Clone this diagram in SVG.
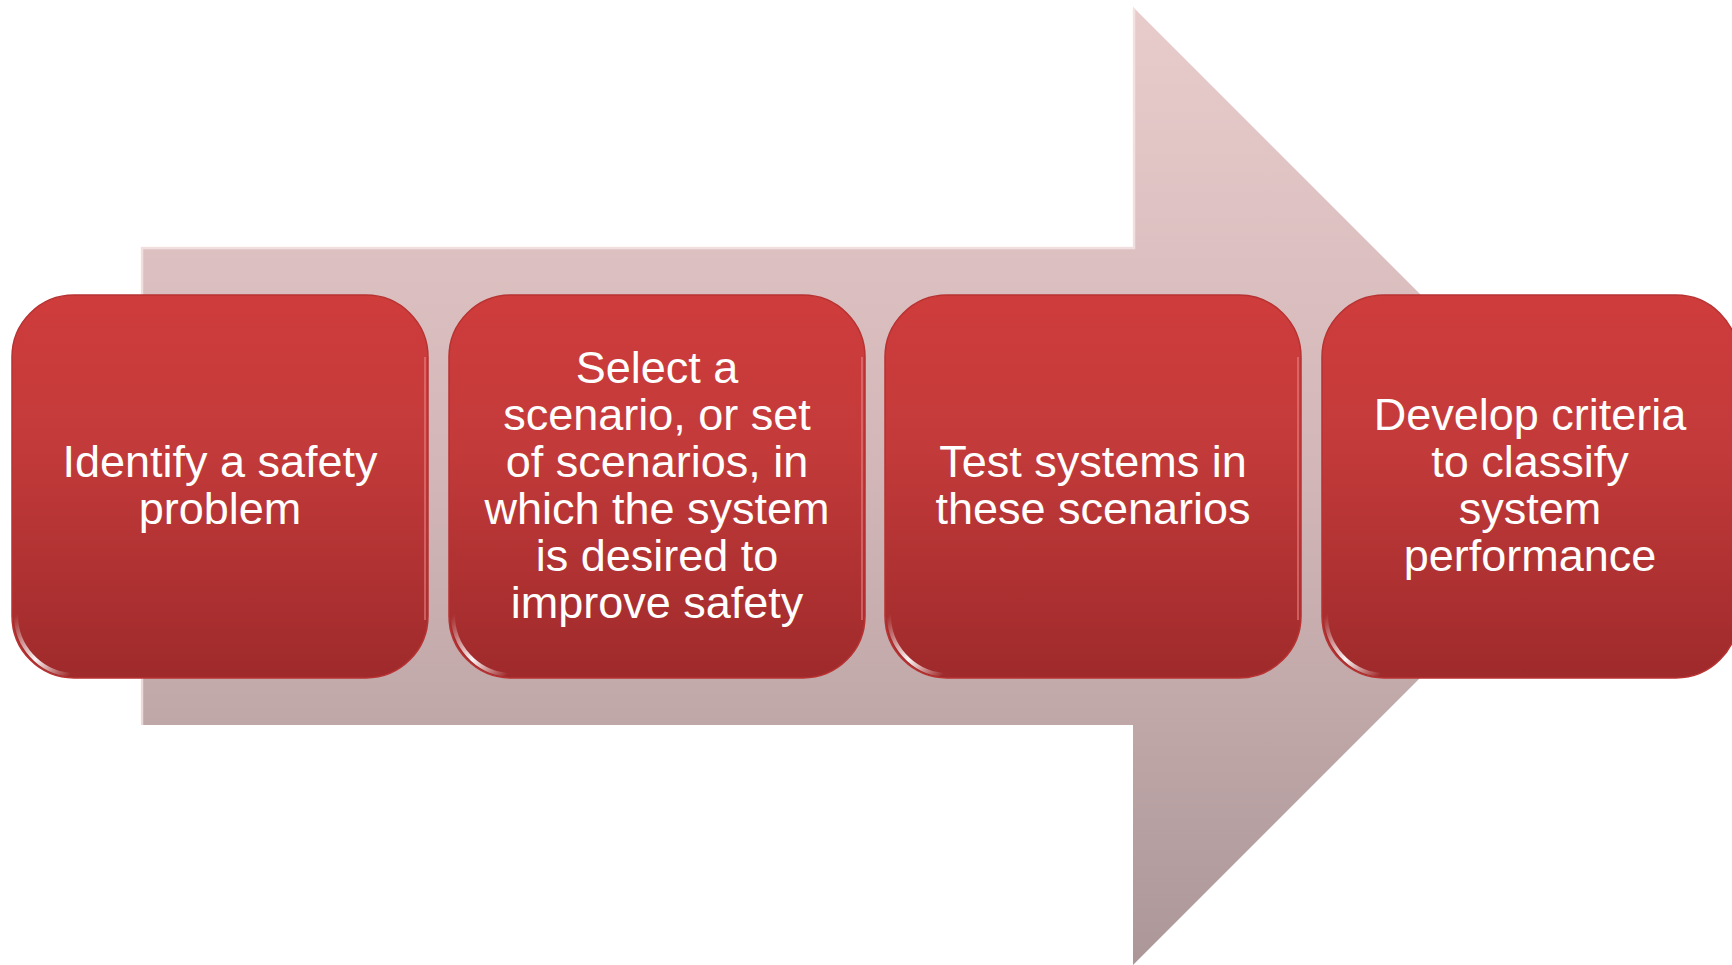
<svg xmlns="http://www.w3.org/2000/svg" width="1732" height="965" viewBox="0 0 1732 965">
<defs>
<linearGradient id="arrowGrad" x1="0" y1="7" x2="0" y2="965" gradientUnits="userSpaceOnUse">
<stop offset="0" stop-color="#e8cccc"/>
<stop offset="0.5" stop-color="#d2b6b7"/>
<stop offset="1" stop-color="#ac9798"/>
</linearGradient>
<linearGradient id="boxGrad" x1="0" y1="0" x2="0" y2="1">
<stop offset="0" stop-color="#cf3c3c"/>
<stop offset="0.4" stop-color="#c33a3a"/>
<stop offset="1" stop-color="#9f2a2b"/>
</linearGradient>
<linearGradient id="topHi" x1="0" y1="0" x2="0" y2="1">
<stop offset="0" stop-color="#ff8a8a" stop-opacity="0.9"/>
<stop offset="1" stop-color="#ff8a8a" stop-opacity="0"/>
</linearGradient>
<linearGradient id="cornerHi" x1="0" y1="0" x2="1" y2="1">
<stop offset="0" stop-color="#ffffff" stop-opacity="0"/>
<stop offset="0.55" stop-color="#ffffff" stop-opacity="0.95"/>
<stop offset="1" stop-color="#ffffff" stop-opacity="0"/>
</linearGradient>
</defs>
<style>
.box{fill:url(#boxGrad);stroke:#b83232;stroke-width:1.5}
.hi{fill:none;stroke:url(#topHi);stroke-width:4}
.corner{fill:none;stroke:url(#cornerHi);stroke-width:4;stroke-linecap:round}
.rim{fill:none;stroke:#e88080;stroke-width:2;stroke-opacity:0.6}
.lbl{font-family:"Liberation Sans",Arial,sans-serif;font-size:45px;fill:#ffffff;text-anchor:middle}
</style>
<rect width="1732" height="965" fill="#ffffff"/>
<g id="arrow">
<polygon points="141,247 1133,247 1133,7 1612,486 1133,965 1133,725 141,725" fill="url(#arrowGrad)"/>
<polyline points="142,725 142,248 1134,248 1134,8" fill="none" stroke="#f6e6e6" stroke-width="2.5" stroke-opacity="0.8"/>
</g>
<g id="connectors"></g>
<g id="node1">
<rect class="box" x="12" y="295" width="416" height="383" rx="62"/>
<path class="hi" d="M74,298 H366"/>
<path class="rim" d="M425,357 V620"/>
<path class="corner" d="M16,615 A60 60 0 0 0 70,675"/>
<text class="lbl" x="220" y="477">Identify a safety</text>
<text class="lbl" x="220" y="524">problem</text>
</g>
<g id="node2">
<rect class="box" x="449" y="295" width="416" height="383" rx="62"/>
<path class="hi" d="M511,298 H803"/>
<path class="rim" d="M862,357 V620"/>
<path class="corner" d="M453,615 A60 60 0 0 0 507,675"/>
<text class="lbl" x="657" y="383">Select a</text>
<text class="lbl" x="657" y="430">scenario, or set</text>
<text class="lbl" x="657" y="477">of scenarios, in</text>
<text class="lbl" x="657" y="524">which the system</text>
<text class="lbl" x="657" y="571">is desired to</text>
<text class="lbl" x="657" y="618">improve safety</text>
</g>
<g id="node3">
<rect class="box" x="885" y="295" width="416" height="383" rx="62"/>
<path class="hi" d="M947,298 H1239"/>
<path class="rim" d="M1298,357 V620"/>
<path class="corner" d="M889,615 A60 60 0 0 0 943,675"/>
<text class="lbl" x="1093" y="477">Test systems in</text>
<text class="lbl" x="1093" y="524">these scenarios</text>
</g>
<g id="node4">
<rect class="box" x="1322" y="295" width="416" height="383" rx="62"/>
<path class="hi" d="M1384,298 H1676"/>
<path class="corner" d="M1326,615 A60 60 0 0 0 1380,675"/>
<text class="lbl" x="1530" y="430">Develop criteria</text>
<text class="lbl" x="1530" y="477">to classify</text>
<text class="lbl" x="1530" y="524">system</text>
<text class="lbl" x="1530" y="571">performance</text>
</g>
</svg>
